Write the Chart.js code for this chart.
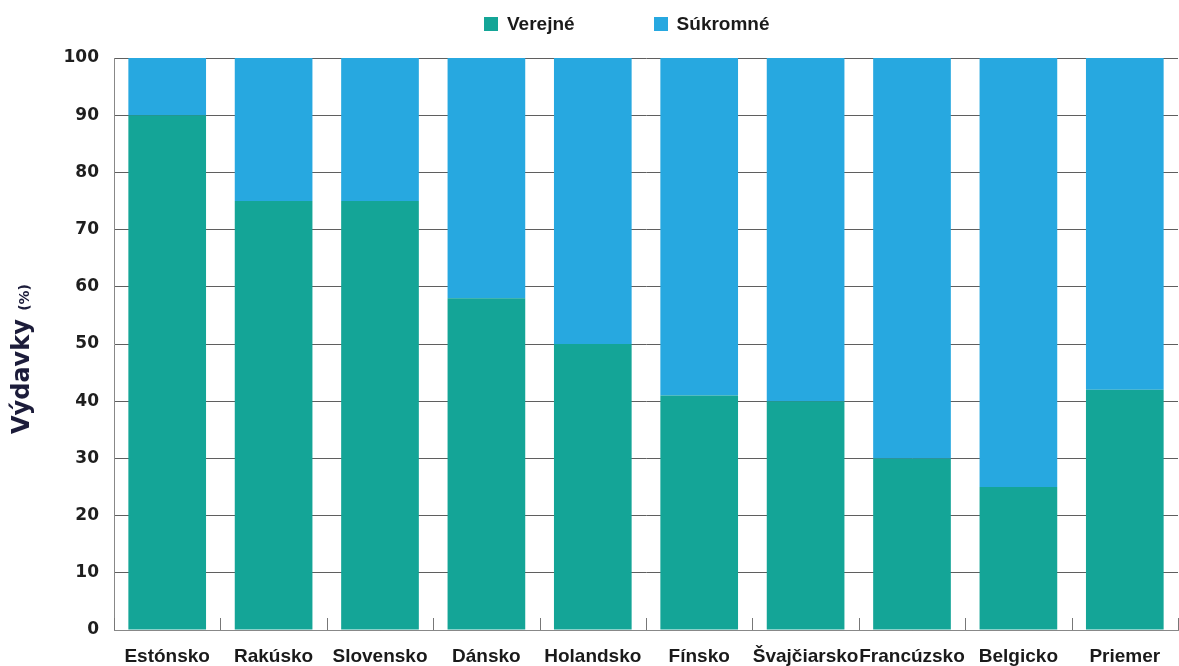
<!DOCTYPE html>
<html>
<head>
<meta charset="utf-8">
<script src="https://cdn.jsdelivr.net/npm/chart.js@4"></script>
<style>
  html, body { margin: 0; padding: 0; background: #fff; }
  #wrap { position: relative; width: 1179px; height: 666px; }
  #legend { position: absolute; top: 13px; left: 484px; display: flex; align-items: center;
    font: bold 19px "Liberation Sans", Arial, sans-serif; color: #1a1a1a; }
  #legend .item { display: flex; align-items: center; margin-right: 79px; }
  #legend .box { width: 14px; height: 14px; margin-right: 9px; }
</style>
</head>
<body>
<div id="wrap">
  <canvas id="chart"></canvas>
  <div id="legend"></div>
</div>
<script>
const categories = ["Estónsko", "Rakúsko", "Slovensko", "Dánsko", "Holandsko", "Fínsko", "Švajčiarsko", "Francúzsko", "Belgicko", "Priemer"];
const verejne = [90, 75, 75, 58, 50, 41, 40, 30, 25, 42];
const sukromne = [10, 25, 25, 42, 50, 59, 60, 70, 75, 58];
const seriesNames = ["Verejné", "Súkromné"];
const yTitle = "Výdavky";
const yUnit = "(%)";

const green = "#14a597";
const blue = "#27a8e0";

// small tick marks sitting on the x axis between categories
const xTickMarks = {
  id: "xTickMarks",
  afterDatasetsDraw(chart) {
    const x = chart.scales.x;
    const ctx = chart.ctx;
    const step = x.width / categories.length;
    ctx.save();
    ctx.strokeStyle = "#777";
    ctx.lineWidth = 1;
    ctx.beginPath();
    for (let i = 0; i <= categories.length; i++) {
      const px = Math.round(x.left + i * step) + 0.5;
      ctx.moveTo(px, x.top - 12);
      ctx.lineTo(px, x.top);
    }
    ctx.stroke();
    ctx.restore();
  }
};

// y axis title with a smaller unit part
const yTitlePlugin = {
  id: "yTitlePlugin",
  afterDraw(chart) {
    const ctx = chart.ctx;
    const area = chart.chartArea;
    const big = "bold 24px 'DejaVu Sans'";
    const small = "bold 14px 'DejaVu Sans'";
    ctx.save();
    ctx.font = big;
    const w1 = ctx.measureText(yTitle + " ").width;
    ctx.font = small;
    const w2 = ctx.measureText(yUnit).width;
    const total = w1 + w2;
    ctx.translate(29, (area.top + area.bottom) / 2 + 15);
    ctx.rotate(-Math.PI / 2);
    ctx.fillStyle = "#1c1c3a";
    ctx.textBaseline = "alphabetic";
    ctx.textAlign = "left";
    ctx.font = big;
    ctx.fillText(yTitle, -total / 2, 0);
    ctx.font = small;
    ctx.fillText(yUnit, -total / 2 + w1, 0);
    ctx.restore();
  }
};

const chart = new Chart(document.getElementById("chart"), {
  type: "bar",
  data: {
    labels: categories,
    datasets: [
      { label: seriesNames[0], data: verejne, backgroundColor: green },
      { label: seriesNames[1], data: sukromne, backgroundColor: blue }
    ]
  },
  options: {
    responsive: true,
    maintainAspectRatio: false,
    animation: false,
    layout: { padding: { top: 58, right: 1, left: 0, bottom: 0 } },
    datasets: { bar: { barPercentage: 0.73, categoryPercentage: 1 } },
    plugins: {
      legend: { display: false },
      tooltip: { enabled: false }
    },
    scales: {
      x: {
        stacked: true,
        grid: { display: false },
        border: { display: true, color: "#888", width: 1 },
        ticks: {
          padding: 7,
          color: "#1a1a1a",
          font: { family: "'Liberation Sans', Arial", size: 19, weight: "bold" },
          maxRotation: 0,
          autoSkip: false
        },
        afterFit(scale) { scale.height = 36; }
      },
      y: {
        stacked: true,
        min: 0,
        max: 100,
        ticks: {
          stepSize: 10,
          padding: 15,
          color: "#1e1e1e",
          font: { family: "'DejaVu Sans'", size: 17, weight: "bold" }
        },
        grid: { color: "#5f5f5f", lineWidth: 1, drawTicks: false },
        border: { display: true, color: "#888", width: 1 },
        afterFit(scale) { scale.width = 114; }
      }
    }
  },
  plugins: [xTickMarks, yTitlePlugin]
});

// legend built from the chart's datasets
const legendEl = document.getElementById("legend");
chart.data.datasets.forEach((ds) => {
  const item = document.createElement("div");
  item.className = "item";
  const box = document.createElement("span");
  box.className = "box";
  box.style.background = ds.backgroundColor;
  const txt = document.createElement("span");
  txt.textContent = ds.label;
  item.appendChild(box);
  item.appendChild(txt);
  legendEl.appendChild(item);
});
</script>
</body>
</html>
